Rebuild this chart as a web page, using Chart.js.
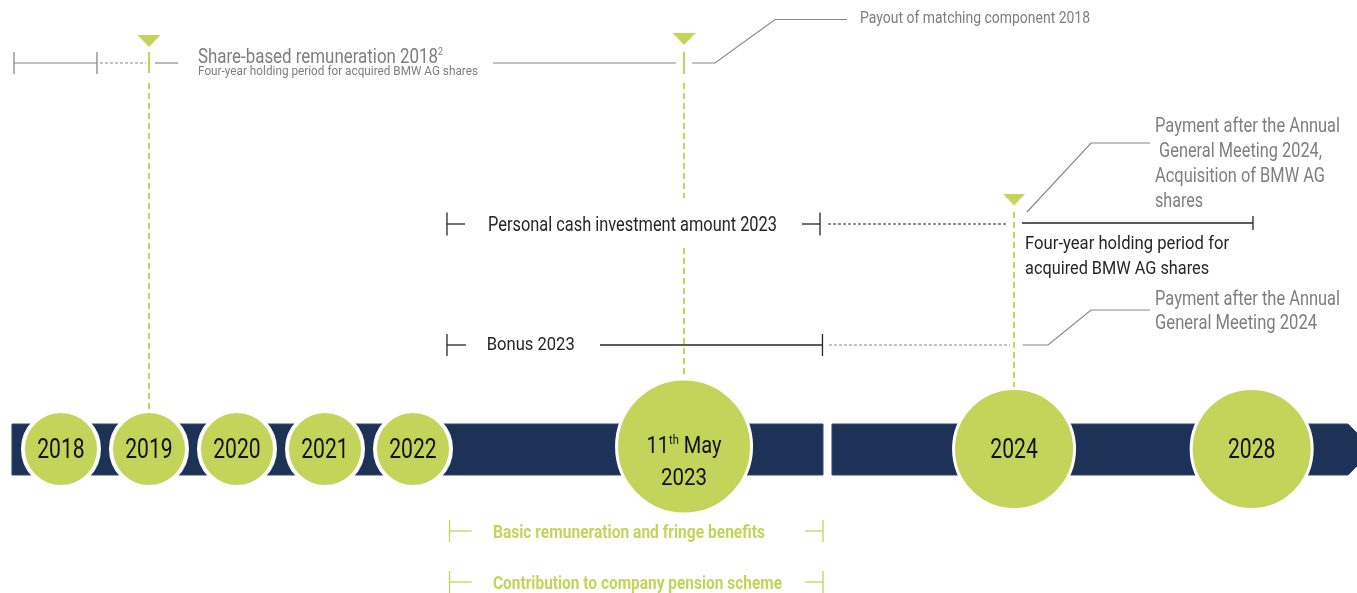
<!DOCTYPE html>
<html>
<head>
<meta charset="utf-8">
<script src="https://cdn.jsdelivr.net/npm/chart.js@4.4.0/dist/chart.umd.min.js"></script>
<style>
html,body{margin:0;padding:0;background:#ffffff;overflow:hidden;}
#wrap{width:1357px;height:593px;}
</style>
</head>
<body>
<div id="wrap"><canvas id="c" width="1357" height="593"></canvas></div>
<script>
// ================= DATA =================
// x axis: timeline slots (one slot = one of the evenly spaced years 2018-2022)
// y axis: vertical lanes above (+) / below (-) the timeline band (0)
const milestoneLabels    = ['2018', '2019', '2020', '2021', '2022', '11th May 2023', '2024', '2028'];
const milestonePositions = [0, 1, 2, 3, 4, 7.08, 10.83, 13.53];
const milestoneKinds     = ['year', 'year', 'year', 'year', 'year', 'event', 'payout', 'payout'];

const markerPositions = [1, 7.08, 10.83];
const markerLevels    = [4.08, 4.10, 2.495];

const laneNames  = ['payout', 'share', 'cash', 'bonus', 'timeline', 'basic', 'pension'];
const laneLevels = [4.295, 3.86, 2.25, 1.04, 0, -0.82, -1.33];

const bandStart = -0.557;
const bandBreak = [8.659, 8.761];
const bandArrow = [14.625, 14.909];

// period starts / ends of the 2023 rows
const periodRowLabels = ['Personal cash investment amount 2023', 'Bonus 2023',
                         'Basic remuneration and fringe benefits', 'Contribution to company pension scheme'];
const periodStarts = [4.386, 4.386, 4.415, 4.415];
const periodEnds   = [8.625, 8.653, 8.659, 8.659];

const shareLabel     = 'Share-based remuneration 2018';
const shareSubLabel  = 'Four-year holding period for acquired BMW AG shares';
const payoutLabel    = 'Payout of matching component 2018';
const cashPayLines   = ['Payment after the Annual', ' General Meeting 2024,', 'Acquisition of BMW AG', 'shares'];
const holdingLines   = ['Four-year holding period for', 'acquired BMW AG shares'];
const bonusPayLines  = ['Payment after the Annual', 'General Meeting 2024'];

// ================= STYLE =================
const GREEN = '#c3d45a';
const NAVY  = '#1e3257';
const GRAY  = '#888888';
const GRAYTXT = '#7e7e7e';
const BLACK = '#262626';
const FONT = 'Roboto, "Open Sans", sans-serif';

const lane = n => laneLevels[laneNames.indexOf(n)];

// ================= DATASETS =================
const datasets = [];
function seg(points, color, width, dash) {
  datasets.push({
    type: 'scatter', showLine: true, clip: false, order: 3,
    data: points.map(p => ({x: p[0], y: p[1]})),
    borderColor: color, borderWidth: width, borderDash: dash || [],
    pointRadius: 0, pointHoverRadius: 0, fill: false, tension: 0
  });
}
function tick(x, y, h, color) { seg([[x, y + h], [x, y - h]], color, 1.3); }

// share-based remuneration 2018 lane
const yS = lane('share');
seg([[-0.534, yS], [0.409, yS]], GRAY, 1.2);
tick(-0.534, yS + 0.0, 0.11, GRAY);
tick(0.409, yS + 0.0, 0.11, GRAY);
seg([[0.443, yS], [0.966, yS]], GRAY, 1.2, [3, 2]);
seg([[1.068, yS], [1.330, yS]], GRAY, 1.2);
seg([[4.909, yS], [6.989, yS]], GRAY, 1.2);
seg([[7.170, yS], [7.432, yS], [8.114, lane('payout')], [8.932, lane('payout')]], GRAY, 1.2);

// personal cash investment lane
const yC = lane('cash');
tick(periodStarts[0], yC, 0.115, BLACK);
seg([[periodStarts[0], yC], [periodStarts[0] + 0.205, yC]], BLACK, 1.3);
seg([[periodEnds[0] - 0.205, yC], [periodEnds[0], yC]], BLACK, 1.3);
tick(periodEnds[0], yC, 0.115, BLACK);
seg([[8.716, yC], [10.761, yC]], BLACK, 1.2, [3, 2]);
seg([[10.920, yC + 0.01], [milestonePositions[7] + 0.015, yC + 0.01]], BLACK, 1.3);
tick(milestonePositions[7] + 0.015, yC + 0.01, 0.07, BLACK);
seg([[10.977, 2.37], [11.705, 3.06], [12.375, 3.06]], GRAY, 1.2);

// bonus lane
const yB = lane('bonus');
tick(periodStarts[1], yB, 0.11, BLACK);
seg([[periodStarts[1], yB], [periodStarts[1] + 0.216, yB]], BLACK, 1.3);
seg([[6.125, yB], [periodEnds[1], yB]], BLACK, 1.3);
tick(periodEnds[1], yB, 0.11, BLACK);
seg([[8.727, yB], [10.784, yB]], GRAY, 1.2, [3, 2]);
seg([[10.928, yB], [11.216, yB], [11.705, 1.39], [12.375, 1.39]], GRAY, 1.2);

// basic / pension lanes (green)
[lane('basic'), lane('pension')].forEach((y, i) => {
  const k = i + 2;
  tick(periodStarts[k], y, 0.11, GREEN);
  seg([[periodStarts[k], y], [periodStarts[k] + 0.252, y]], GREEN, 1.3);
  seg([[periodEnds[k] - 0.204, y], [periodEnds[k], y]], GREEN, 1.3);
  tick(periodEnds[k], y, 0.11, GREEN);
});

// green milestone guides
seg([[markerPositions[0], 3.97], [markerPositions[0], 3.76]], GREEN, 2);
seg([[markerPositions[0], 3.66], [markerPositions[0], 0.39]], GREEN, 2, [6, 4]);
seg([[markerPositions[1], 3.97], [markerPositions[1], 3.75]], GREEN, 2);
seg([[markerPositions[1], 3.66], [markerPositions[1], 2.51]], GREEN, 2, [6, 4]);
seg([[markerPositions[1], 2.01], [markerPositions[1], 0.69]], GREEN, 2, [6, 4]);
seg([[markerPositions[2], 2.37], [markerPositions[2], 0.59]], GREEN, 2, [6, 4]);

// milestone circles
const kindRadius = {year: 38, event: 67.5, payout: 60.5};
const kindBorder = {year: 4, event: 3, payout: 3};
const kindLevel  = {year: 0, event: 0.025, payout: 0};
datasets.push({
  type: 'scatter', clip: false, order: 1,
  data: milestonePositions.map((x, i) => ({x: x, y: kindLevel[milestoneKinds[i]]})),
  pointRadius: milestoneKinds.map(k => kindRadius[k]),
  pointHoverRadius: milestoneKinds.map(k => kindRadius[k]),
  pointBackgroundColor: GREEN, pointBorderColor: '#ffffff',
  pointBorderWidth: milestoneKinds.map(k => kindBorder[k])
});

// triangle markers
const tri = document.createElement('canvas');
tri.width = 23; tri.height = 12;
(function () {
  const t = tri.getContext('2d');
  t.fillStyle = GREEN; t.beginPath();
  t.moveTo(0, 0); t.lineTo(23, 0); t.lineTo(11.5, 12); t.closePath(); t.fill();
})();
datasets.push({
  type: 'scatter', clip: false, order: 0,
  data: markerPositions.map((x, i) => ({x: x, y: markerLevels[i]})),
  pointStyle: tri, pointRadius: 10
});

// ================= PLUGINS =================
function drawRich(ctx, parts, x, y, align, targetW, color) {
  ctx.save();
  let total = 0;
  parts.forEach(p => {
    ctx.font = (p.weight || 400) + ' ' + p.size + 'px ' + FONT;
    p.w = ctx.measureText(p.t).width; total += p.w;
  });
  const W = targetW || total;
  const sx = W / total;
  const start = align === 'center' ? x - W / 2 : (align === 'right' ? x - W : x);
  ctx.translate(start, y);
  ctx.scale(sx, 1);
  ctx.fillStyle = color; ctx.textAlign = 'left'; ctx.textBaseline = 'alphabetic';
  let cx = 0;
  parts.forEach(p => {
    ctx.font = (p.weight || 400) + ' ' + p.size + 'px ' + FONT;
    ctx.fillText(p.t, cx, -(p.rise || 0));
    cx += p.w;
  });
  ctx.restore();
}

const bandPlugin = {
  id: 'band',
  beforeDatasetsDraw(chart) {
    const {ctx, scales: {x, y}} = chart;
    const top = y.getPixelForValue(0.25), bot = y.getPixelForValue(-0.26), mid = y.getPixelForValue(-0.005);
    ctx.save();
    ctx.fillStyle = NAVY; ctx.strokeStyle = '#2f4a78'; ctx.lineWidth = 1;
    ctx.beginPath();
    ctx.rect(x.getPixelForValue(bandStart), top, x.getPixelForValue(bandBreak[0]) - x.getPixelForValue(bandStart), bot - top);
    ctx.fill(); ctx.stroke();
    ctx.beginPath();
    ctx.moveTo(x.getPixelForValue(bandBreak[1]), top);
    ctx.lineTo(x.getPixelForValue(bandArrow[0]), top);
    ctx.lineTo(x.getPixelForValue(bandArrow[1]), mid);
    ctx.lineTo(x.getPixelForValue(bandArrow[0]), bot);
    ctx.lineTo(x.getPixelForValue(bandBreak[1]), bot);
    ctx.closePath();
    ctx.fill(); ctx.stroke();
    ctx.restore();
  }
};

const textPlugin = {
  id: 'texts',
  afterDatasetsDraw(chart) {
    const {ctx, scales: {x, y}} = chart;
    const X = v => x.getPixelForValue(v), Y = v => y.getPixelForValue(v);

    // milestone labels
    milestoneLabels.forEach((lab, i) => {
      const px = X(milestonePositions[i]);
      if (milestoneKinds[i] === 'event') {
        const m = lab.match(/^(\d+)(th) (.*) (\d{4})$/);
        drawRich(ctx, [{t: m[1], size: 23.5}, {t: m[2], size: 13, rise: 9}, {t: ' ' + m[3], size: 23.5}], px, Y(-0.04), 'center', 75, '#111');
        drawRich(ctx, [{t: m[4], size: 24}], px, Y(-0.36), 'center', 46, '#111');
      } else {
        drawRich(ctx, [{t: lab, size: 27}], px, Y(-0.09), 'center', 47.5, '#111');
      }
    });

    // share based remuneration
    drawRich(ctx, [{t: shareLabel, size: 21}, {t: '2', size: 11, rise: 8}], X(1.557), Y(3.86), 'left', 245, GRAYTXT);
    drawRich(ctx, [{t: shareSubLabel, size: 13.5}], X(1.557), Y(3.74), 'left', 280, GRAYTXT);
    drawRich(ctx, [{t: payoutLabel, size: 16}], X(9.080), Y(4.26), 'left', 230, GRAYTXT);

    // period rows
    drawRich(ctx, [{t: periodRowLabels[0], size: 19.5}], X(4.852), Y(2.18), 'left', 289, BLACK);
    drawRich(ctx, [{t: periodRowLabels[1], size: 19}], X(4.838), Y(0.99), 'left', 88, BLACK);
    drawRich(ctx, [{t: periodRowLabels[2], size: 18, weight: 700}], X(4.909), Y(-0.89), 'left', 272, GREEN);
    drawRich(ctx, [{t: periodRowLabels[3], size: 18, weight: 700}], X(4.909), Y(-1.40), 'left', 289, GREEN);

    // payment notes
    const cashW = [185, 167, 170, 48];
    const cashB = [3.17, 2.92, 2.67, 2.42];
    cashPayLines.forEach((t, i) => drawRich(ctx, [{t: t, size: 19.5}], X(12.432), Y(cashB[i]), 'left', cashW[i], GRAYTXT));
    const holdW = [204, 184];
    const holdB = [2.00, 1.75];
    holdingLines.forEach((t, i) => drawRich(ctx, [{t: t, size: 18.5}], X(10.955), Y(holdB[i]), 'left', holdW[i], BLACK));
    const bonW = [185, 162];
    const bonB = [1.44, 1.20];
    bonusPayLines.forEach((t, i) => drawRich(ctx, [{t: t, size: 19.5}], X(12.432), Y(bonB[i]), 'left', bonW[i], GRAYTXT));
  }
};

new Chart(document.getElementById('c'), {
  type: 'scatter',
  data: {datasets: datasets},
  options: {
    responsive: false, animation: false, devicePixelRatio: 1,
    layout: {padding: 0, autoPadding: false},
    events: [],
    scales: {
      x: {type: 'linear', min: -0.693, max: 14.727, display: false},
      y: {type: 'linear', min: -1.44, max: 4.49, display: false}
    },
    plugins: {legend: {display: false}, tooltip: {enabled: false}}
  },
  plugins: [bandPlugin, textPlugin]
});
</script>
</body>
</html>
